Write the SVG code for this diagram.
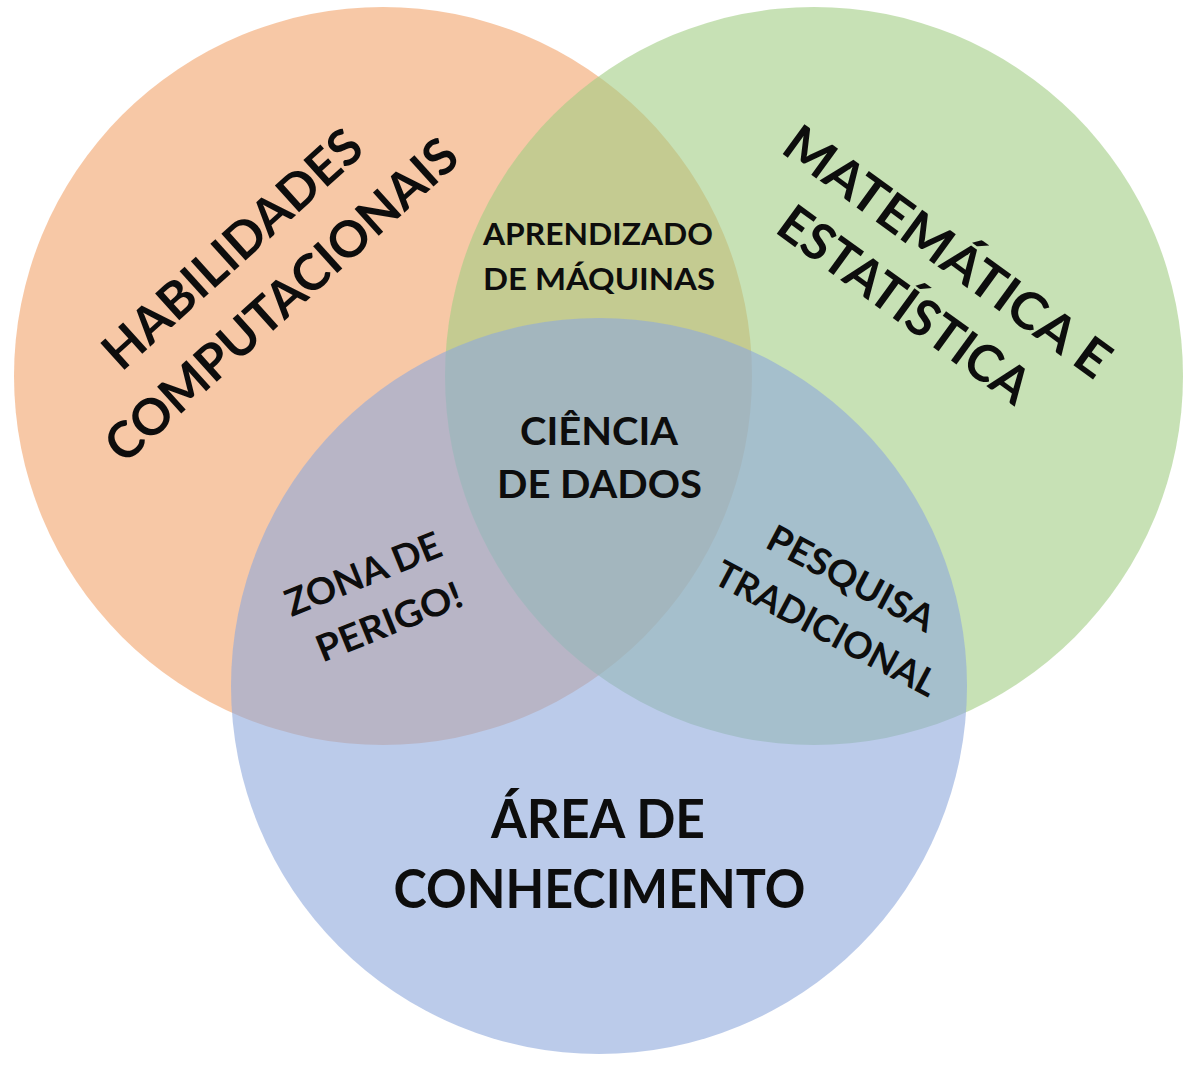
<svg xmlns="http://www.w3.org/2000/svg" width="1200" height="1069" viewBox="0 0 1200 1069">
<style>
.c{fill-opacity:0.6;stroke:none}
.t{font-family:Lato,"Open Sans","Liberation Sans",sans-serif;font-weight:bold;fill:#0d0d0d;text-anchor:middle}
</style>
<rect width="1200" height="1069" fill="#ffffff"/>
<g id="node-habilidades">
<circle class="c" cx="383" cy="376" r="369" fill="#F2A36B"/>
<text class="t" font-size="50" transform="translate(244,262) rotate(-42)" textLength="330" lengthAdjust="spacingAndGlyphs">HABILIDADES</text>
<text class="t" font-size="50" transform="translate(293,313) rotate(-42)" textLength="455" lengthAdjust="spacingAndGlyphs">COMPUTACIONAIS</text>
</g>
<g id="node-matematica">
<circle class="c" cx="814" cy="376" r="369" fill="#A2CD84"/>
<text class="t" font-size="51" transform="translate(937,266) rotate(36)" textLength="390" lengthAdjust="spacingAndGlyphs">MATEMÁTICA E</text>
<text class="t" font-size="51" transform="translate(894,319) rotate(36)" textLength="298" lengthAdjust="spacingAndGlyphs">ESTATÍSTICA</text>
</g>
<g id="node-area">
<circle class="c" cx="599" cy="686" r="368" fill="#8EA8DC"/>
<text class="t" font-size="53" x="598" y="838" textLength="214" lengthAdjust="spacingAndGlyphs">ÁREA DE</text>
<text class="t" font-size="53" x="599.5" y="908" textLength="412" lengthAdjust="spacingAndGlyphs">CONHECIMENTO</text>
</g>
<g id="node-aprendizado">
<text class="t" font-size="31" x="598" y="245" textLength="230" lengthAdjust="spacingAndGlyphs">APRENDIZADO</text>
<text class="t" font-size="31" x="599" y="290" textLength="232" lengthAdjust="spacingAndGlyphs">DE MÁQUINAS</text>
</g>
<g id="node-ciencia">
<text class="t" font-size="39" x="599" y="445" textLength="158" lengthAdjust="spacingAndGlyphs">CIÊNCIA</text>
<text class="t" font-size="39" x="599.5" y="498" textLength="205" lengthAdjust="spacingAndGlyphs">DE DADOS</text>
</g>
<g id="node-zona">
<text class="t" font-size="37" transform="translate(368,586) rotate(-22)" textLength="165" lengthAdjust="spacingAndGlyphs">ZONA DE</text>
<text class="t" font-size="37" transform="translate(394,634) rotate(-22)" textLength="154" lengthAdjust="spacingAndGlyphs">PERIGO!</text>
</g>
<g id="node-pesquisa">
<text class="t" font-size="37" transform="translate(845,590) rotate(28)" textLength="184" lengthAdjust="spacingAndGlyphs">PESQUISA</text>
<text class="t" font-size="37" transform="translate(820,640) rotate(28)" textLength="246" lengthAdjust="spacingAndGlyphs">TRADICIONAL</text>
</g>
<g id="connectors"/>
</svg>
